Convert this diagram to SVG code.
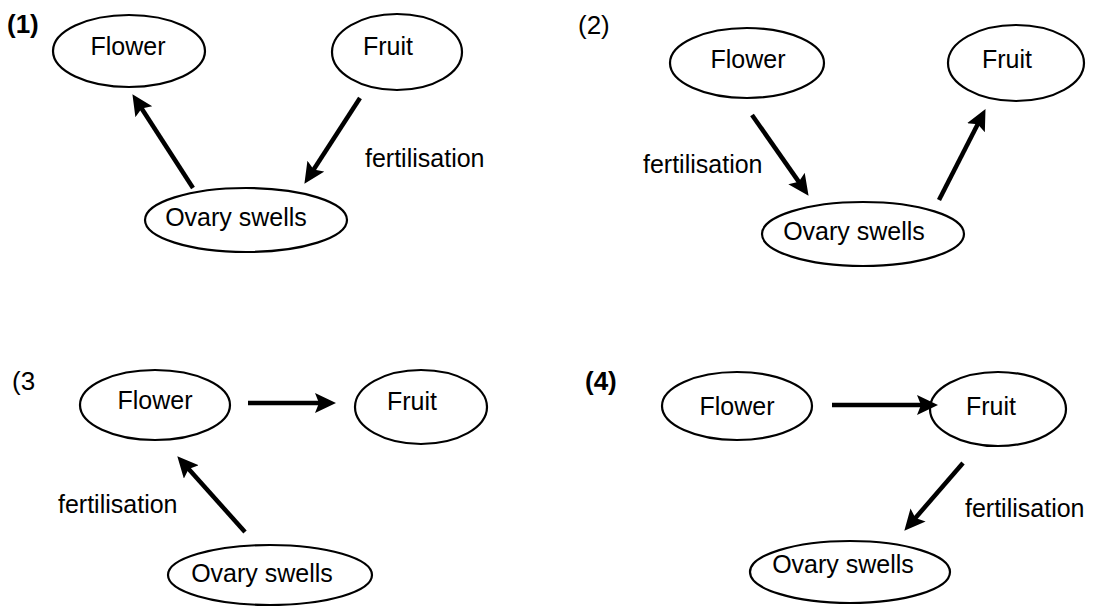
<svg xmlns="http://www.w3.org/2000/svg" width="1095" height="606" viewBox="0 0 1095 606">
<style>
.node ellipse{fill:#fff;stroke:#000;stroke-width:2.2}
.t{font-family:"Liberation Sans",Arial,sans-serif;font-size:25px;fill:#000}
.c{text-anchor:middle}
.lbl{font-family:"Liberation Sans",Arial,sans-serif;font-size:26px;fill:#000}
.arr{stroke:#000;stroke-width:4.5;fill:none;marker-end:url(#ah)}
</style>
<defs>
<marker id="ah" markerUnits="userSpaceOnUse" markerWidth="24" markerHeight="22" refX="12" refY="10" orient="auto">
<path d="M0,0 L21,10 L0,20 L4,10 z" fill="#000"/>
</marker>
</defs>
<rect width="1095" height="606" fill="#fff"/>
<text class="lbl" x="7" y="33" font-weight="bold">(1)</text>
<text class="lbl" x="578" y="34">(2)</text>
<text class="lbl" x="12" y="390">(3</text>
<text class="lbl" x="585" y="390" font-weight="bold">(4)</text>

<g id="p1-flower" class="node"><ellipse cx="129" cy="51" rx="76" ry="36"/><text class="t c" x="128" y="55">Flower</text></g>
<g id="p1-fruit" class="node"><ellipse cx="397" cy="52" rx="65" ry="38"/><text class="t c" x="388" y="55">Fruit</text></g>
<g id="p1-ovary" class="node"><ellipse cx="246" cy="220" rx="101" ry="32"/><text class="t c" x="236" y="226">Ovary swells</text></g>

<g id="p2-flower" class="node"><ellipse cx="747" cy="63" rx="77" ry="35"/><text class="t c" x="748" y="68">Flower</text></g>
<g id="p2-fruit" class="node"><ellipse cx="1016" cy="63" rx="68" ry="38"/><text class="t c" x="1007" y="68">Fruit</text></g>
<g id="p2-ovary" class="node"><ellipse cx="863" cy="234" rx="101" ry="32"/><text class="t c" x="854" y="240">Ovary swells</text></g>

<g id="p3-flower" class="node"><ellipse cx="155" cy="405" rx="75" ry="35"/><text class="t c" x="155" y="409">Flower</text></g>
<g id="p3-fruit" class="node"><ellipse cx="421" cy="407" rx="66" ry="37"/><text class="t c" x="412" y="410">Fruit</text></g>
<g id="p3-ovary" class="node"><ellipse cx="270" cy="575" rx="102" ry="30"/><text class="t c" x="262" y="582">Ovary swells</text></g>

<g id="p4-flower" class="node"><ellipse cx="737" cy="406" rx="75" ry="34"/><text class="t c" x="737" y="415">Flower</text></g>
<g id="p4-fruit" class="node"><ellipse cx="998" cy="409" rx="68" ry="37"/><text class="t c" x="991" y="415">Fruit</text></g>
<g id="p4-ovary" class="node"><ellipse cx="850" cy="572" rx="100" ry="31"/><text class="t c" x="843" y="573">Ovary swells</text></g>

<g id="connectors">
<path class="arr" d="M193,188 L137.3,101.7"/>
<path class="arr" d="M360,98 L309.3,176.3"/>
<path class="arr" d="M752,115 L803.4,188.4"/>
<path class="arr" d="M939,200 L981.4,117.1"/>
<path class="arr" d="M248,403 L327,403"/>
<path class="arr" d="M245,532 L183.3,463"/>
<path class="arr" d="M832,405 L929,405"/>
<path class="arr" d="M963,463 L910.2,524"/>
<text class="t" x="365" y="167">fertilisation</text>
<text class="t" x="643" y="173">fertilisation</text>
<text class="t" x="58" y="513">fertilisation</text>
<text class="t" x="965" y="517">fertilisation</text>
</g>
</svg>
